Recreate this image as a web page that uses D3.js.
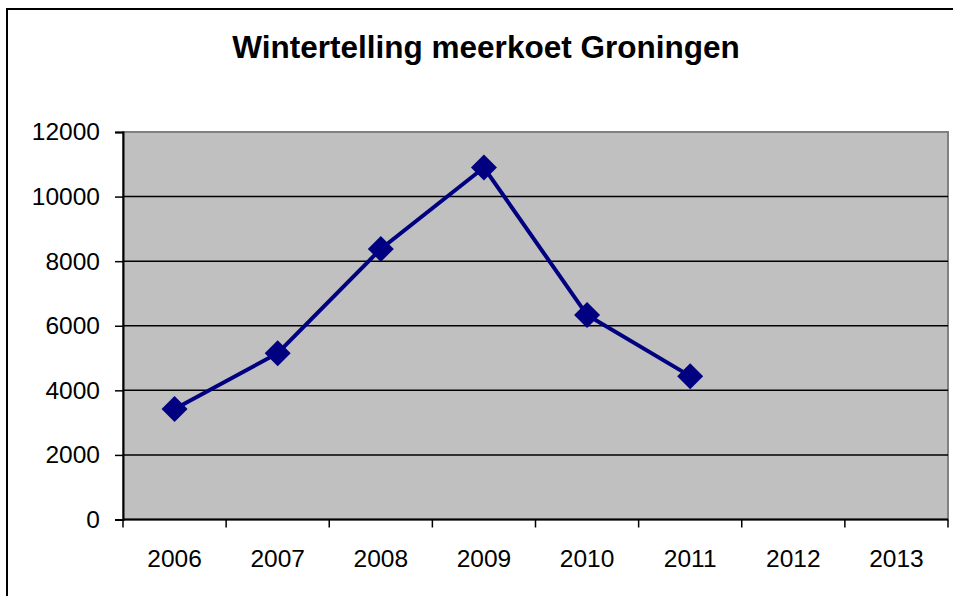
<!DOCTYPE html>
<html>
<head>
<meta charset="utf-8">
<script src="https://cdn.jsdelivr.net/npm/d3@7"></script>
<style>
  body { margin: 0; background: #fff; }
  text { font-family: "Liberation Sans", Arial, sans-serif; }
</style>
</head>
<body>
<div id="chart-container"></div>
<script>
const years = ['2006', '2007', '2008', '2009', '2010', '2011', '2012', '2013']
const counts = [3420, 5150, 8380, 10900, 6330, 4440]
const yTicks = [0, 2000, 4000, 6000, 8000, 10000, 12000]
const title = 'Wintertelling meerkoet Groningen'

function draw () {
  const width = 953
  const height = 596
  const margin = { top: 132, right: 5, bottom: 76.5, left: 123 }
  const innerW = width - margin.left - margin.right
  const innerH = height - margin.top - margin.bottom

  const svg = d3.select('#chart-container')
    .append('svg')
    .attr('width', width)
    .attr('height', height)

  // outer frame
  svg.append('rect')
    .attr('x', 7).attr('y', 9)
    .attr('width', 980).attr('height', 620)
    .attr('fill', '#fff')
    .attr('stroke', '#000')
    .attr('stroke-width', 2)

  svg.append('text')
    .attr('x', 486)
    .attr('y', 58)
    .attr('text-anchor', 'middle')
    .style('font-size', '31.5px')
    .attr('font-weight', 'bold')
    .text(title)

  const g = svg.append('g').attr('transform', `translate(${margin.left},${margin.top})`)

  const xScale = d3.scaleBand()
    .domain(years)
    .range([0, innerW])

  const yScale = d3.scaleLinear()
    .domain([0, 12000])
    .range([innerH, 0])

  g.append('rect')
    .attr('width', innerW)
    .attr('height', innerH)
    .attr('fill', '#c0c0c0')
    .attr('stroke', '#808080')
    .attr('stroke-width', 2)

  // gridlines
  g.selectAll('.grid')
    .data(yTicks.filter(d => d > 0 && d < 12000))
    .enter()
    .append('line')
    .attr('x1', 0)
    .attr('x2', innerW)
    .attr('y1', d => yScale(d))
    .attr('y2', d => yScale(d))
    .attr('stroke', '#000')
    .attr('stroke-width', 1.5)

  // y axis
  const yAxis = g.append('g')
    .call(d3.axisLeft(yScale).tickValues(yTicks).tickFormat(d3.format('d')).tickSizeOuter(0).tickSize(8).tickPadding(15))
  yAxis.select('.domain').attr('stroke', '#000').attr('stroke-width', 2)
  yAxis.selectAll('.tick line').attr('stroke', '#000').attr('stroke-width', 1.5)
  yAxis.selectAll('text')
    .style('font-size', '24.5px')
    .attr('fill', '#000')
    .style('font-family', '"Liberation Sans", Arial, sans-serif')

  // x axis: ticks at category boundaries
  const xAxis = g.append('g').attr('transform', `translate(0,${innerH})`)
  xAxis.append('line')
    .attr('x1', 0).attr('x2', innerW)
    .attr('stroke', '#000').attr('stroke-width', 2)
  const bounds = years.map(d => xScale(d)).concat([innerW])
  xAxis.selectAll('.xtick')
    .data(bounds)
    .enter()
    .append('line')
    .attr('x1', d => d).attr('x2', d => d)
    .attr('y1', 0).attr('y2', 8)
    .attr('stroke', '#000').attr('stroke-width', 1.5)
  xAxis.selectAll('.xlabel')
    .data(years)
    .enter()
    .append('text')
    .attr('x', d => xScale(d) + xScale.bandwidth() / 2)
    .attr('y', 47.5)
    .attr('text-anchor', 'middle')
    .style('font-size', '24.5px')
    .text(d => d)

  const pts = counts.map((v, i) => ({ year: years[i], value: v }))

  const line = d3.line()
    .x(d => xScale(d.year) + xScale.bandwidth() / 2)
    .y(d => yScale(d.value))

  g.append('path')
    .datum(pts)
    .attr('d', line)
    .attr('fill', 'none')
    .attr('stroke', '#000080')
    .attr('stroke-width', 4)

  g.selectAll('.marker')
    .data(pts)
    .enter()
    .append('path')
    .attr('transform', d => `translate(${xScale(d.year) + xScale.bandwidth() / 2},${yScale(d.value)})`)
    .attr('d', 'M0,-13L13,0L0,13L-13,0Z')
    .attr('fill', '#000080')
}

draw()
</script>
</body>
</html>
